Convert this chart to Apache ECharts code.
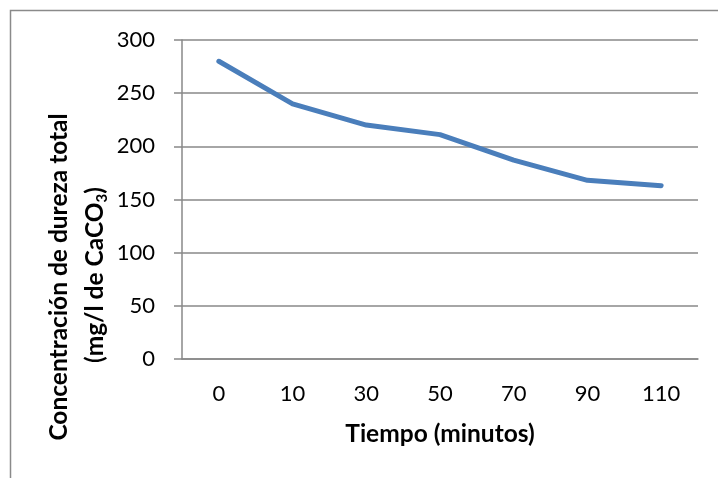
<!DOCTYPE html>
<html>
<head>
<meta charset="utf-8">
<script src="https://cdn.jsdelivr.net/npm/echarts@6/dist/echarts.min.js"></script>
<style>
html,body{margin:0;padding:0;background:#fff;}
#chart{width:718px;height:478px;}
</style>
</head>
<body>
<div id="chart"></div>
<script>
const categories = ['0', '10', '30', '50', '70', '90', '110'];
const hardness = [280, 240, 220, 211, 187, 168, 163];
const yTicks = { min: 0, max: 300, interval: 50 };
const xTitle = 'Tiempo (minutos)';
const yTitle1 = 'Concentración de dureza total';
const yTitle2 = '{a|(mg/l de CaCO}{s|3}{a|)}';

const FONT = 'Lato';
const gridColor = '#888888';

const chart = echarts.init(document.getElementById('chart'), null, { renderer: 'canvas' });
chart.setOption({
  animation: false,
  backgroundColor: '#ffffff',
  graphic: [
    {
      type: 'rect',
      shape: { x: 10.5, y: 10.5, width: 760, height: 520 },
      style: { fill: 'none', stroke: '#8a8a8a', lineWidth: 1.5 },
      silent: true
    },
    {
      type: 'text',
      x: 59, y: 277,
      rotation: Math.PI / 2,
      style: {
        text: yTitle1,
        font: 'bold 24.5px ' + FONT,
        fill: '#000',
        align: 'center',
        verticalAlign: 'middle'
      }
    },
    {
      type: 'text',
      x: 95, y: 275,
      rotation: Math.PI / 2,
      style: {
        text: yTitle2,
        align: 'center',
        verticalAlign: 'middle',
        rich: {
          a: { fontFamily: FONT, fontWeight: 'bold', fontSize: 24.5, lineHeight: 30, fill: '#000', color: '#000' },
          s: { fontFamily: FONT, fontWeight: 'bold', fontSize: 15, lineHeight: 14, verticalAlign: 'bottom', fill: '#000', color: '#000' }
        }
      }
    }
  ],
  grid: { left: 182, top: 40, right: 20, bottom: 119, containLabel: false },
  xAxis: {
    type: 'category',
    data: categories,
    boundaryGap: true,
    name: xTitle,
    nameLocation: 'middle',
    nameGap: 63,
    nameTextStyle: { fontFamily: FONT, fontWeight: 'bold', fontSize: 24.5, color: '#000' },
    axisLine: { show: true, lineStyle: { color: gridColor, width: 1.5 } },
    axisTick: { show: false },
    axisLabel: { fontFamily: FONT, fontSize: 22, color: '#000', margin: 24 },
    splitLine: { show: false }
  },
  yAxis: {
    type: 'value',
    min: yTicks.min,
    max: yTicks.max,
    interval: yTicks.interval,
    axisLine: { show: true, lineStyle: { color: gridColor, width: 1.5 } },
    axisTick: { show: true, inside: false, length: 8, lineStyle: { color: gridColor, width: 1.5 } },
    axisLabel: { fontFamily: FONT, fontSize: 22, color: '#000', margin: 27 },
    splitLine: { show: true, lineStyle: { color: gridColor, width: 1.5 } }
  },
  series: [{
    type: 'line',
    data: hardness,
    showSymbol: false,
    symbol: 'none',
    smooth: false,
    lineStyle: { color: '#4a7ebb', width: 5, cap: 'round', join: 'round' },
    itemStyle: { color: '#4a7ebb' }
  }]
});
</script>
</body>
</html>
